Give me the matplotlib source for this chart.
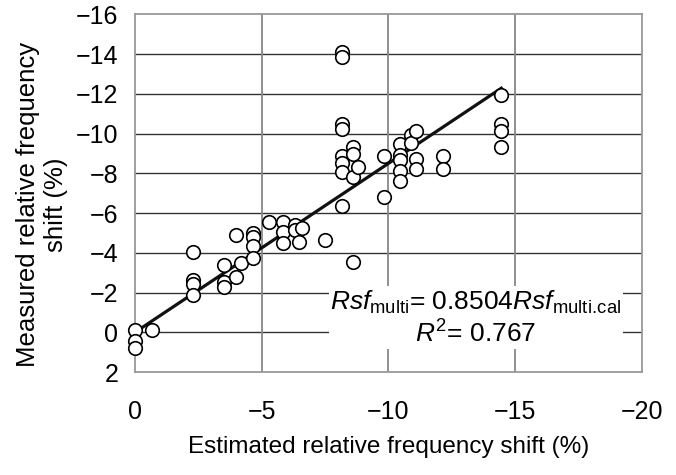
import matplotlib
matplotlib.use("Agg")
import matplotlib.pyplot as plt
import numpy as np

plt.rcParams['font.family'] = ['Liberation Sans', 'DejaVu Sans']
plt.rcParams['mathtext.fontset'] = 'custom'
plt.rcParams['mathtext.rm'] = 'Liberation Sans'
plt.rcParams['mathtext.it'] = 'Liberation Sans:italic'

# estimated (x) and measured (y) relative frequency shift, %
est = [0, 0, 0, -0.66,
       -2.3, -2.3, -2.3, -2.3,
       -3.5, -3.5, -3.5,
       -3.98, -3.98, -4.18,
       -4.65, -4.65, -4.65, -4.65,
       -5.3, -5.84, -5.84, -5.84,
       -6.3, -6.3, -6.6, -6.47, -7.5,
       -8.17, -8.17, -8.17, -8.17, -8.17, -8.17, -8.17, -8.17,
       -8.6, -8.6, -8.6, -8.8, -8.6,
       -9.82, -9.82,
       -10.47, -10.47, -10.47, -10.47, -10.47,
       -10.9, -10.9,
       -11.1, -11.1, -11.1,
       -12.15, -12.15,
       -14.45, -14.45, -14.45, -14.45]
meas = [-0.1, 0.44, 0.8, -0.1,
        -4.03, -2.62, -2.42, -1.86,
        -3.38, -2.52, -2.27,
        -4.9, -2.77, -3.48,
        -4.99, -4.79, -4.33, -3.73,
        -5.54, -5.54, -5.04, -4.48,
        -5.39, -5.14, -5.24, -4.53, -4.63,
        -14.1, -13.85, -10.48, -10.23, -8.87, -8.54, -8.05, -6.35,
        -9.32, -8.97, -7.8, -8.31, -3.53,
        -8.87, -6.8,
        -9.47, -8.92, -8.66, -8.11, -7.6,
        -9.92, -9.52,
        -10.13, -8.72, -8.21,
        -8.87, -8.21,
        -11.94, -10.48, -10.13, -9.32]

slope = 0.8504
r2 = 0.767
fit_x = np.array([0, -14.45])

xticks = [0, -5, -10, -15, -20]
yticks = [-16, -14, -12, -10, -8, -6, -4, -2, 0, 2]

fig = plt.figure(figsize=(6.76, 4.75), dpi=100)
ax = fig.add_axes([0.1997, 0.2168, 0.75, 0.7527])

ax.set_xlim(0, -20)
ax.set_ylim(2, -16)
ax.set_xticks(xticks)
ax.set_yticks(yticks)
ax.tick_params(length=0, labelsize=18, pad=12)
ax.tick_params(axis='x', pad=20)

for v in yticks[1:-1]:
    ax.axhline(v, color='#333333', lw=1.0, zorder=1)
for v in xticks[1:-1]:
    ax.axvline(v, color='#888888', lw=1.3, zorder=1)
for s in ax.spines.values():
    s.set_color('#999999')
    s.set_linewidth(1.3)

ax.plot(fit_x, slope * fit_x, color='#111111', lw=2.3, zorder=2)
ax.scatter(est, meas, s=95, facecolor='white', edgecolor='black',
           linewidths=1.2, zorder=3, clip_on=False)

ax.text(-13.45, -0.7,
        r'$\mathit{Rsf}_{\mathrm{multi}}$= 0.8504$\mathit{Rsf}_{\mathrm{multi.\!cal}}$' + '\n'
        + r'$\mathit{R}^{2}$= ' + f'{r2}',
        ha='center', va='center', fontsize=19, linespacing=1.2, zorder=4,
        bbox=dict(facecolor='white', edgecolor='none', pad=1))

ax.set_xlabel('Estimated relative frequency shift (%)', fontsize=17.5, labelpad=9)
fig.text(0.062, 0.569, 'Measured relative frequency\nshift (%)', rotation=90,
         ha='center', va='center', fontsize=18.5, linespacing=1.25)

fig.savefig('out.png', dpi=100)
